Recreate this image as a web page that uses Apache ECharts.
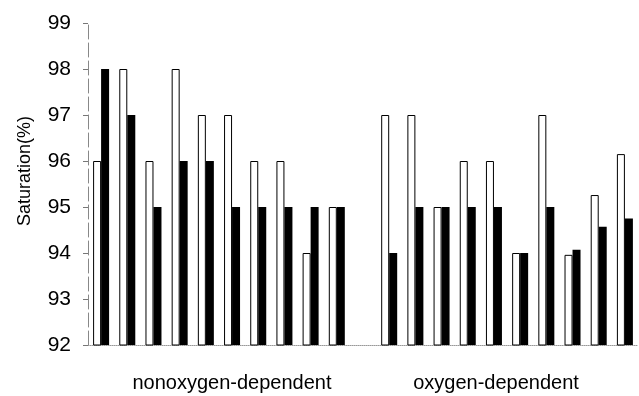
<!DOCTYPE html>
<html><head><meta charset="utf-8">
<script src="https://cdn.jsdelivr.net/npm/echarts@6/dist/echarts.min.js"></script>
<style>html,body{margin:0;padding:0;background:#fff}#c{width:639px;height:396px}</style>
</head><body><div id="c"></div>
<script>
const categories = ['n1','n2','n3','n4','n5','n6','n7','n8','n9','n10','',
                    'o1','o2','o3','o4','o5','o6','o7','o8','o9','o10'];
const whiteValues = [96,98,96,98,97,97,96,96,94,95, null,
                     97,97,95,96,96,94,97,93.96,95.26,96.15];
const blackValues = [98,97,95,96,96,95,95,95,95,95, null,
                     94,95,95,95,95,94,95,94.07,94.57,94.75];
const yTicks = [92,93,94,95,96,97,98,99];
const groupLabels = ['nonoxygen-dependent','oxygen-dependent'];
const yName = 'Saturation(%)';

const chart = echarts.init(document.getElementById('c'));
const font = 'Liberation Sans, Arial, sans-serif';
chart.setOption({
  animation:false,
  grid:{left:88,right:1,top:23,bottom:51},
  xAxis:{type:'category',data:categories,
    axisLine:{show:true,lineStyle:{color:'#999',width:1,type:'dotted'}},
    axisTick:{show:false},axisLabel:{show:false},splitLine:{show:false}},
  yAxis:{type:'value',min:yTicks[0],max:yTicks[yTicks.length-1],interval:1,
    axisLine:{show:true,lineStyle:{color:'#888',width:1,type:[14,4]}},
    axisTick:{show:true,length:5,lineStyle:{color:'#777'}},
    axisLabel:{color:'#000',fontSize:21,fontFamily:font,margin:17},
    splitLine:{show:false}},
  graphic:[
    {type:'text',left:2,top:171,rotation:Math.PI/2,
      style:{text:yName,fill:'#000',font:'18px '+font,textAlign:'center',textVerticalAlign:'middle'},
      x:25,y:171,left:null,top:null},
    {type:'text',x:232,y:383,style:{text:groupLabels[0],fill:'#000',font:'20px '+font,textAlign:'center',textVerticalAlign:'middle'}},
    {type:'text',x:496,y:383,style:{text:groupLabels[1],fill:'#000',font:'20px '+font,textAlign:'center',textVerticalAlign:'middle'}}
  ],
  series:[
    {type:'bar',data:whiteValues,barWidth:8,barGap:'0%',
      itemStyle:{color:'#fff',borderColor:'#000',borderWidth:1}},
    {type:'bar',data:blackValues,barWidth:8,barGap:'0%',
      itemStyle:{color:'#000',borderColor:'#000',borderWidth:0}}
  ]
});
</script></body></html>
